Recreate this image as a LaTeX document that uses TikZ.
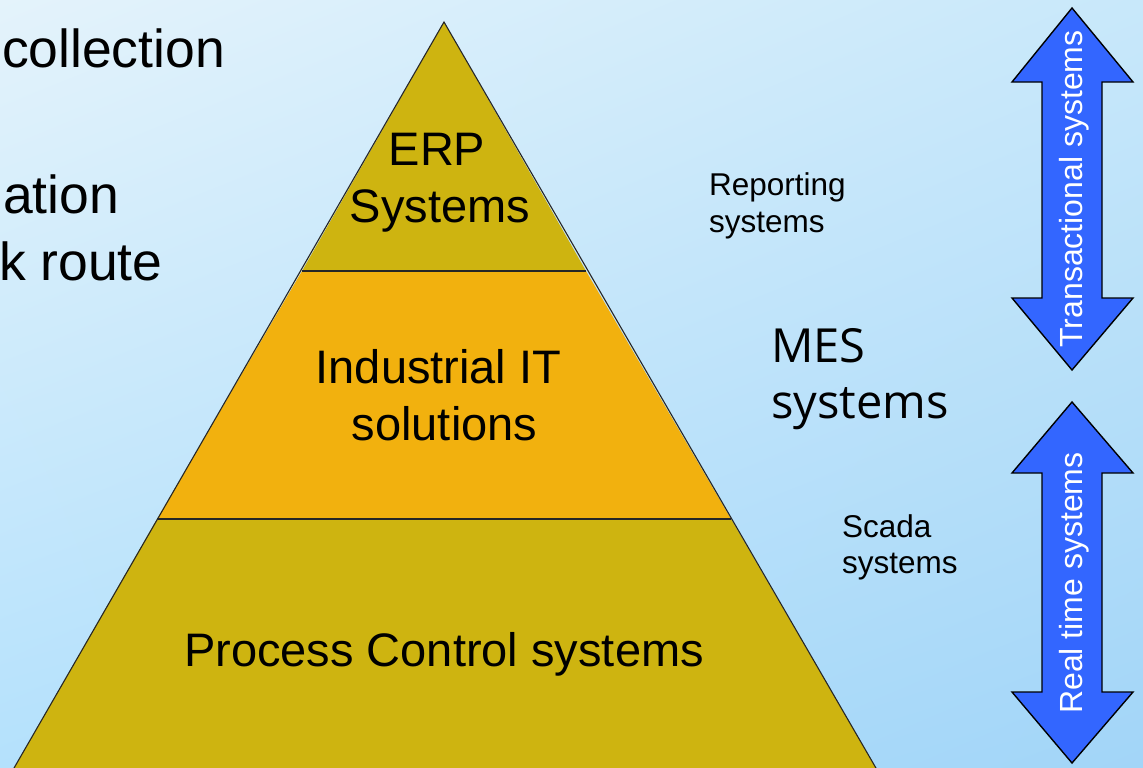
\documentclass[tikz,border=0pt]{standalone}
\usepackage{fontspec}
\setmainfont{Liberation Sans}
\newfontfamily\mesfont{Open Sans}
\usetikzlibrary{shadings}
\definecolor{pyrgold}{RGB}{206,180,16}
\definecolor{pyrorange}{RGB}{242,177,14}
\definecolor{arrowblue}{RGB}{51,102,255}
\definecolor{bgul}{RGB}{228,243,251}
\definecolor{bgur}{RGB}{200,232,250}
\definecolor{bgll}{RGB}{180,225,252}
\definecolor{bglr}{RGB}{162,213,248}
\begin{document}
\begin{tikzpicture}[x=1pt,y=-1pt,
  txt/.style={inner sep=0pt,outer sep=0pt,anchor=base,text=black},
  big/.style={txt,font=\fontsize{47}{57}\selectfont},
  side/.style={txt,anchor=base west,font=\fontsize{53.5}{62}\selectfont},
  small/.style={txt,anchor=base west,font=\fontsize{31.5}{37}\selectfont},
  mes/.style={txt,anchor=base west,font=\mesfont\fontsize{47}{56}\selectfont},
  layer/.style={draw=black!85,line width=1.1pt},
  dblarrow/.style={draw=black,line width=1.4pt,fill=arrowblue,line join=miter},
  arrowtxt/.style={inner sep=0pt,text=white,rotate=90,font=\fontsize{32}{38}\selectfont}]
\useasboundingbox (0,0) rectangle (1143,768);
\clip (0,0) rectangle (1143,768);
% background
\shade[upper left=bgul,upper right=bgur,lower left=bgll,lower right=bglr]
  (0,0) rectangle (1143,768);
% pyramid
\coordinate (apex) at (444,22);
\fill[pyrgold] (444,22) -- (302,271) -- (586,271) -- cycle;
\fill[pyrorange] (302,271) -- (586,271) -- (731,519) -- (157,519) -- cycle;
\fill[pyrgold] (157,519) -- (731,519) -- (880,775) -- (10,775) -- cycle;
\draw[layer] (10,775) -- (apex) -- (880,775);
\draw[layer] (302,271) -- (586,271);
\draw[layer] (157,519) -- (731,519);
% pyramid texts
\node[big] (erp1) at (437,165) {ERP};
\node[big] (erp2) at (440,222) {Systems};
\node[big] (ind1) at (438.5,383) {Industrial IT};
\node[big] (ind2) at (444.5,440) {solutions};
\node[big] (pcs) at (444,666) {Process Control systems};
% left partial texts
\node[side] (l1) at (2,67) {collection};
\node[side] (l2) at (3,213) {ation};
\node[side] (l3) at (-1,280) {k route};
% right labels
\node[small] (rep1) at (709,195) {Reporting};
\node[small] (rep2) at (709,232) {systems};
\node[mes] (mes1) at (771,362) {MES};
\node[mes] (mes2) at (771,418) {systems};
\node[small] (sc1) at (842,537) {Scada};
\node[small] (sc2) at (842,573) {systems};
% double arrows
\draw[dblarrow] (1072,8) -- (1133,82) -- (1102,82) -- (1102,298) -- (1133,298) -- (1072,370)
  -- (1012,298) -- (1042,298) -- (1042,82) -- (1012,82) -- cycle;
\draw[dblarrow] (1072,402) -- (1133,473) -- (1102,473) -- (1102,692) -- (1133,692) -- (1072,763)
  -- (1012,692) -- (1042,692) -- (1042,473) -- (1012,473) -- cycle;
\node[arrowtxt] (tr) at (1074,189) {Transactional systems};
\node[arrowtxt] (rt) at (1074,583) {Real time systems};
\end{tikzpicture}
\end{document}
